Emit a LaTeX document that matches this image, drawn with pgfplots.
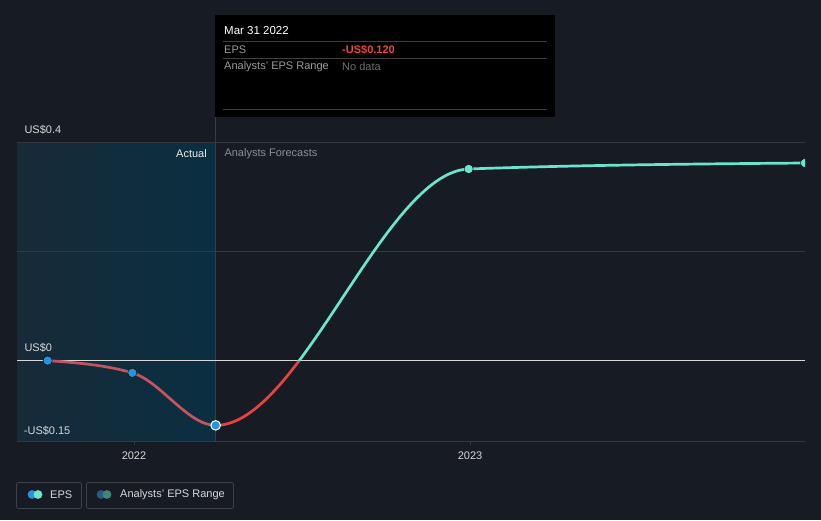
\documentclass[border=0pt]{standalone}
\usepackage{pgfplots}
\pgfplotsset{compat=1.18}
\usepackage{pgfplotstable}
\usepackage{fontspec}
\setmainfont{Liberation Sans}
\definecolor{bg}{HTML}{161B24}
\definecolor{gridc}{HTML}{343941}
\definecolor{zeroc}{HTML}{D8D8D8}
\definecolor{shadeL}{HTML}{172A38}
\definecolor{shadeR}{HTML}{0A2F41}
\definecolor{vline}{HTML}{1F4656}
\definecolor{actred}{HTML}{C4545E}
\definecolor{fcred}{HTML}{E8433F}
\definecolor{tealc}{HTML}{6CE5CE}
\definecolor{bluec}{HTML}{2394DF}
\definecolor{lbl}{HTML}{D8D8D8}
\definecolor{dimtxt}{HTML}{8C9096}
\definecolor{sepc}{HTML}{3E3E3E}
\definecolor{legb}{HTML}{3C414A}
\definecolor{legblue}{HTML}{255C86}
\definecolor{legteal}{HTML}{3F857A}
\definecolor{tipred}{HTML}{E84545}
\definecolor{tipgray}{HTML}{9A9A9A}
\definecolor{nodata}{HTML}{6E6E6E}

% ---- monotone cubic (d3 curveMonotoneX) plot handler ----
\makeatletter
\newcount\mono@n \newcount\mono@i \newcount\mono@j
\def\pgfplothandlermonotone{%
  \def\pgf@plotstreamstart{%
    \global\mono@n=0\relax
    \global\let\pgf@plotstreampoint=\mono@point
    \global\let\pgf@plotstreamspecial=\pgfutil@gobble
    \global\let\pgf@plotstreamend=\mono@draw
  }%
}
\def\mono@point#1{%
  \pgf@process{#1}%
  \global\advance\mono@n by 1\relax
  \expandafter\xdef\csname mono@x@\the\mono@n\endcsname{\pgf@sys@tonumber\pgf@x}%
  \expandafter\xdef\csname mono@y@\the\mono@n\endcsname{\pgf@sys@tonumber\pgf@y}%
}
\def\mono@v#1#2{\csname mono@#1@\number#2\endcsname}
\def\mono@draw{%
  \ifnum\mono@n>1\relax
    \begingroup
      \pgfkeys{/pgf/fpu=false}%
      \mono@compute
    \endgroup
    \mono@path
  \fi
}
\def\mono@compute{%
  \xdef\mono@path{\noexpand\pgfpathmoveto{\noexpand\pgfqpoint{\mono@v{x}{1}pt}{\mono@v{y}{1}pt}}}%
  \ifnum\mono@n=2\relax
    \xdef\mono@path{\unexpanded\expandafter{\mono@path}\noexpand\pgfpathlineto{\noexpand\pgfqpoint{\mono@v{x}{2}pt}{\mono@v{y}{2}pt}}}%
  \else
    \mono@slopes
  \fi
}
\def\mono@slopes{%
  \mono@i=1\relax
  \loop
    \mono@j=\mono@i \advance\mono@j by 1\relax
    \edef\mono@xa{\mono@v{x}{\mono@i}}\edef\mono@xb{\mono@v{x}{\mono@j}}%
    \edef\mono@ya{\mono@v{y}{\mono@i}}\edef\mono@yb{\mono@v{y}{\mono@j}}%
    \pgfmathsetmacro\mono@tmp{(\mono@xb)-(\mono@xa)}%
    \expandafter\let\csname mono@h@\number\mono@i\endcsname\mono@tmp
    \pgfmathsetmacro\mono@tmp{((\mono@yb)-(\mono@ya))/((\mono@xb)-(\mono@xa))}%
    \expandafter\let\csname mono@s@\number\mono@i\endcsname\mono@tmp
  \ifnum\mono@j<\mono@n\relax \mono@i=\mono@j\relax \repeat
  \mono@i=2\relax
  \loop
    \mono@j=\mono@i \advance\mono@j by -1\relax
    \edef\mono@sa{\mono@v{s}{\mono@j}}\edef\mono@sb{\mono@v{s}{\mono@i}}%
    \edef\mono@ha{\mono@v{h}{\mono@j}}\edef\mono@hb{\mono@v{h}{\mono@i}}%
    \pgfmathsetmacro\mono@tmp{(((\mono@sa)>0)-((\mono@sa)<0)+((\mono@sb)>0)-((\mono@sb)<0))*min(abs(\mono@sa),abs(\mono@sb),0.5*abs(((\mono@sa)*(\mono@hb)+(\mono@sb)*(\mono@ha))/((\mono@ha)+(\mono@hb))))}%
    \expandafter\let\csname mono@t@\number\mono@i\endcsname\mono@tmp
  \ifnum\mono@i<\numexpr\mono@n-1\relax \advance\mono@i by 1\relax \repeat
  \edef\mono@sa{\mono@v{s}{1}}\edef\mono@tb{\mono@v{t}{2}}%
  \pgfmathsetmacro\mono@tmp{(3*(\mono@sa)-(\mono@tb))/2}%
  \expandafter\let\csname mono@t@1\endcsname\mono@tmp
  \mono@i=\mono@n \advance\mono@i by -1\relax
  \edef\mono@sa{\mono@v{s}{\mono@i}}\edef\mono@tb{\mono@v{t}{\mono@i}}%
  \pgfmathsetmacro\mono@tmp{(3*(\mono@sa)-(\mono@tb))/2}%
  \expandafter\let\csname mono@t@\number\mono@n\endcsname\mono@tmp
  \mono@i=1\relax
  \loop
    \mono@j=\mono@i \advance\mono@j by 1\relax
    \edef\mono@xa{\mono@v{x}{\mono@i}}\edef\mono@xb{\mono@v{x}{\mono@j}}%
    \edef\mono@ya{\mono@v{y}{\mono@i}}\edef\mono@yb{\mono@v{y}{\mono@j}}%
    \edef\mono@ta{\mono@v{t}{\mono@i}}\edef\mono@tb{\mono@v{t}{\mono@j}}%
    \edef\mono@h{\mono@v{h}{\mono@i}}%
    \pgfmathsetmacro\mono@ax{(\mono@xa)+(\mono@h)/3}%
    \pgfmathsetmacro\mono@ay{(\mono@ya)+(\mono@h)/3*(\mono@ta)}%
    \pgfmathsetmacro\mono@bx{(\mono@xb)-(\mono@h)/3}%
    \pgfmathsetmacro\mono@by{(\mono@yb)-(\mono@h)/3*(\mono@tb)}%
    \xdef\mono@path{\unexpanded\expandafter{\mono@path}\noexpand\pgfpathcurveto{\noexpand\pgfqpoint{\mono@ax pt}{\mono@ay pt}}{\noexpand\pgfqpoint{\mono@bx pt}{\mono@by pt}}{\noexpand\pgfqpoint{\mono@xb pt}{\mono@yb pt}}}%
  \ifnum\mono@j<\mono@n\relax \mono@i=\mono@j\relax \repeat
}
\tikzset{monotone/.code={\let\tikz@plot@handler=\pgfplothandlermonotone}}
\makeatother

% EPS: decimal year, value (US$)
\pgfplotstableread{
x y
2021.743 -0.001
2021.995 -0.0235
2022.243 -0.120
2022.996 0.351
2023.997 0.362
}\epsdata

\begin{document}
\begin{tikzpicture}[font=\fontsize{11}{13}\selectfont]
\fill[bg] (0pt,0pt) rectangle (821pt,-520pt);
\begin{axis}[
  at={(17pt,-441.7pt)}, anchor=south west,
  scale only axis, width=788pt, height=299.4pt,
  xmin=2021.6518, xmax=2023.997, ymin=-0.15, ymax=0.4,
  axis line style={draw=none},
  xtick={2022,2023}, xticklabels={2022,2023},
  ytick=\empty,
  tick align=outside, xtick pos=bottom,
  xtick style={draw=gridc, line width=0.8pt}, major tick length=3.5pt,
  xticklabel style={font=\fontsize{11}{13}\selectfont, text=lbl, yshift=-3pt},
  /pgf/number format/assume math mode=true,
  clip=true, clip marker paths=true,
]
% actual period band
\fill[left color=shadeL, right color=shadeR] (axis cs:2021.6518,-0.15) rectangle (axis cs:2022.243,0.4);
% grid lines
\draw[gridc, line width=0.8pt] (axis cs:2021.6518,0.4) -- (axis cs:2023.997,0.4);
\draw[gridc, line width=0.8pt] (axis cs:2021.6518,0.2) -- (axis cs:2023.997,0.2);
\draw[gridc, line width=1pt] (axis cs:2021.6518,-0.15) -- (axis cs:2023.997,-0.15);
\draw[vline, line width=1pt] (axis cs:2022.243,-0.15) -- (axis cs:2022.243,0.4);
\draw[zeroc, line width=0.9pt] (axis cs:2021.6518,0) -- (axis cs:2023.997,0);
% EPS line, coloured by region
\begin{scope}
  \clip (axis cs:2021.5,-0.3) rectangle (axis cs:2022.243,0.5);
  \addplot[monotone, draw=actred, line width=2.7pt, no marks] table {\epsdata};
\end{scope}
\begin{scope}
  \clip (axis cs:2022.243,-0.3) rectangle (axis cs:2024.2,0);
  \addplot[monotone, draw=fcred, line width=2.7pt, no marks] table {\epsdata};
\end{scope}
\begin{scope}
  \clip (axis cs:2022.243,0) rectangle (axis cs:2024.2,0.5);
  \addplot[monotone, draw=tealc, line width=2.7pt, no marks] table {\epsdata};
\end{scope}
% markers
\addplot[only marks, mark=*, mark size=4.6pt, mark options={draw=none, fill=bluec}]
  coordinates {(2021.743,-0.001) (2021.995,-0.0235)};
\addplot[only marks, mark=*, mark size=4.8pt, mark options={draw=white, line width=1pt, fill=bluec}]
  coordinates {(2022.243,-0.120)};
\addplot[only marks, mark=*, mark size=4.6pt, mark options={draw=none, fill=tealc}]
  coordinates {(2022.996,0.351) (2023.997,0.362)};
\end{axis}

% hover line above the axis
\draw[vline, line width=1pt] (215.3pt,-117pt) -- (215.3pt,-142.3pt);
% y labels
\node[anchor=west, inner sep=0pt, text=lbl] at (24.3pt,-130pt) {US\$0.4};
\node[anchor=west, inner sep=0pt, text=lbl] at (24.3pt,-347.5pt) {US\$0};
\node[anchor=west, inner sep=0pt, text=lbl] at (23.7pt,-430.5pt) {-US\$0.15};
% region labels
\node[anchor=east, inner sep=0pt, text=white!92!black] at (207pt,-154pt) {Actual};
\node[anchor=west, inner sep=0pt, text=dimtxt] at (224.3pt,-154pt) {Analysts Forecasts};

% tooltip
\fill[black] (215pt,-15pt) rectangle (555pt,-117pt);
\node[anchor=west, inner sep=0pt, text=white] at (224pt,-31pt) {\fontsize{11.5}{13}\selectfont Mar 31 2022};
\draw[sepc, line width=0.8pt] (223pt,-41pt) -- (547pt,-41pt);
\node[anchor=west, inner sep=0pt, text=tipgray] at (224pt,-49.5pt) {EPS};
\node[anchor=west, inner sep=0pt, text=tipred] at (342pt,-49.5pt) {\bfseries -US\$0.120};
\draw[sepc, line width=0.8pt] (223pt,-58pt) -- (547pt,-58pt);
\node[anchor=west, inner sep=0pt, text=tipgray] at (224pt,-66.5pt) {Analysts' EPS Range};
\node[anchor=west, inner sep=0pt, text=nodata] at (342pt,-66.5pt) {No data};
\draw[sepc, line width=0.8pt] (223pt,-109pt) -- (547pt,-109pt);

% legend
\draw[legb, line width=0.8pt, rounded corners=2pt] (16.5pt,-482.5pt) rectangle (81.5pt,-508.5pt);
\fill[bluec] (32pt,-494.5pt) circle (4.4pt);
\fill[tealc] (38pt,-494.5pt) circle (4.4pt);
\node[anchor=west, inner sep=0pt, text=lbl] at (50pt,-494.5pt) {EPS};
\draw[legb, line width=0.8pt, rounded corners=2pt] (86.5pt,-482.5pt) rectangle (233.5pt,-508.5pt);
\fill[legblue] (101pt,-494.5pt) circle (4.4pt);
\fill[legteal] (107pt,-494.5pt) circle (4.4pt);
\node[anchor=west, inner sep=0pt, text=lbl] at (120pt,-494.5pt) {Analysts' EPS Range};
\end{tikzpicture}
\end{document}
